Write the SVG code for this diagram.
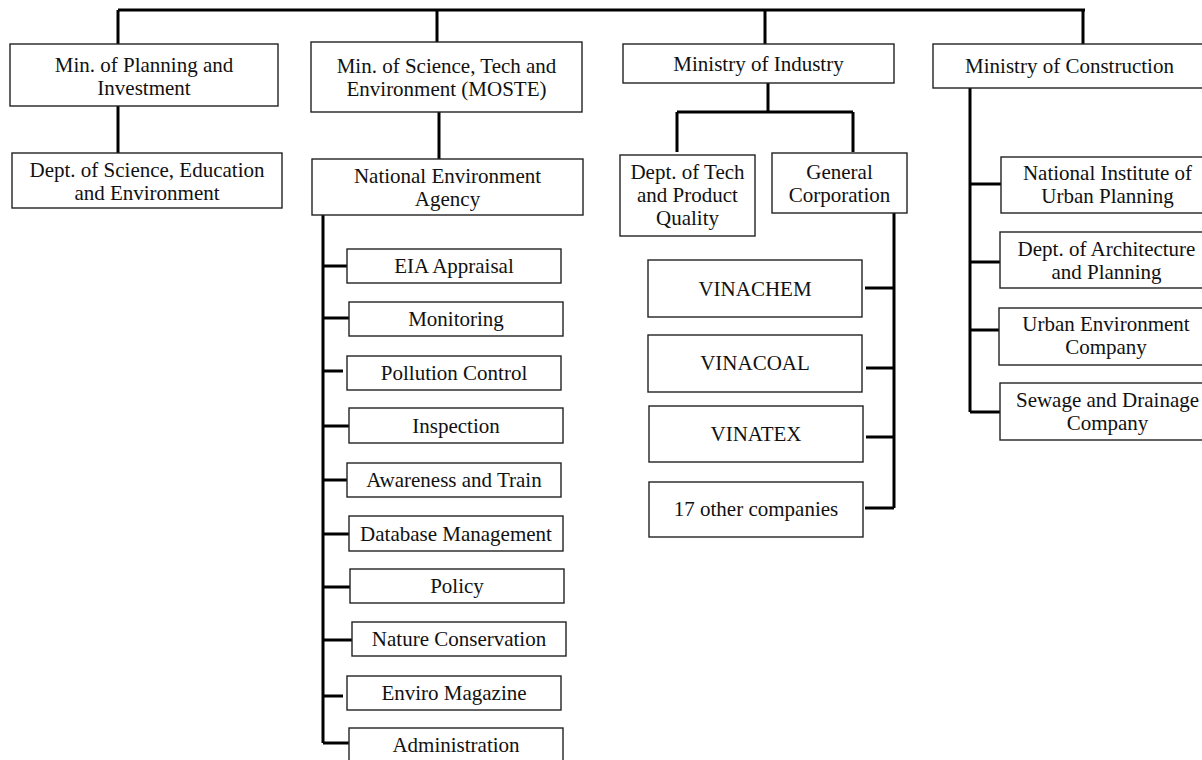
<svg xmlns="http://www.w3.org/2000/svg" width="1202" height="760" viewBox="0 0 1202 760">
<style>
.b{fill:#fff;stroke:#222;stroke-width:1.4}
.t{font-family:"Liberation Serif","Times New Roman",serif;font-size:21px;fill:#111;text-anchor:middle}
.c{fill:none;stroke:#000;stroke-width:3}
</style>
<rect width="1202" height="760" fill="#fff"/>
<g id="connectors" class="c">
<path d="M118,10H1085M118,10V44M437,10V42M765,10V44M1083,10V44"/>
<path d="M118,106V153"/>
<path d="M439,112V159"/>
<path d="M323,215V743M323,266H347M323,318H349M323,371H343M323,426H349M323,480H347M323,534H349M323,587H350M323,640H352M323,696H343M323,743H349"/>
<path d="M768,83V112M677,112H853M677,112V152M853,112V152"/>
<path d="M894,213V508M865,288H894M866,368H894M866,437H894M865,508H894"/>
<path d="M970,88V412M970,184H1001M970,262H1000M970,330H1000M970,412H1000"/>
</g>
<g id="mpi"><rect class="b" x="10" y="44" width="268" height="62"/><text class="t" x="144" y="72">Min. of Planning and</text><text class="t" x="144" y="95">Investment</text></g>
<g id="dsee"><rect class="b" x="12" y="153" width="270" height="55"/><text class="t" x="147" y="177">Dept. of Science, Education</text><text class="t" x="147" y="200">and Environment</text></g>
<g id="moste"><rect class="b" x="311" y="42" width="271" height="70"/><text class="t" x="446.5" y="73">Min. of Science, Tech and</text><text class="t" x="446.5" y="96">Environment (MOSTE)</text></g>
<g id="nea"><rect class="b" x="312" y="159" width="271" height="56"/><text class="t" x="447.5" y="183">National Environment</text><text class="t" x="447.5" y="206">Agency</text></g>
<g id="eia"><rect class="b" x="347" y="249" width="214" height="34"/><text class="t" x="454" y="273">EIA Appraisal</text></g>
<g id="monitoring"><rect class="b" x="349" y="302" width="214" height="34"/><text class="t" x="456" y="326">Monitoring</text></g>
<g id="pollution"><rect class="b" x="347" y="356" width="214" height="34"/><text class="t" x="454" y="380">Pollution Control</text></g>
<g id="inspection"><rect class="b" x="349" y="408" width="214" height="35"/><text class="t" x="456" y="433">Inspection</text></g>
<g id="awareness"><rect class="b" x="347" y="463" width="214" height="34"/><text class="t" x="454" y="487">Awareness and Train</text></g>
<g id="database"><rect class="b" x="349" y="516" width="214" height="35"/><text class="t" x="456" y="541">Database Management</text></g>
<g id="policy"><rect class="b" x="350" y="569" width="214" height="34"/><text class="t" x="457" y="593">Policy</text></g>
<g id="nature"><rect class="b" x="352" y="622" width="214" height="34"/><text class="t" x="459" y="646">Nature Conservation</text></g>
<g id="enviro"><rect class="b" x="347" y="676" width="214" height="34"/><text class="t" x="454" y="700">Enviro Magazine</text></g>
<g id="admin"><rect class="b" x="349" y="728" width="214" height="40"/><text class="t" x="456" y="752">Administration</text></g>
<g id="moi"><rect class="b" x="623" y="44" width="271" height="39"/><text class="t" x="758.5" y="71">Ministry of Industry</text></g>
<g id="dtpq"><rect class="b" x="620" y="155" width="135" height="81"/><text class="t" x="687.5" y="179">Dept. of Tech</text><text class="t" x="687.5" y="202">and Product</text><text class="t" x="687.5" y="225">Quality</text></g>
<g id="gc"><rect class="b" x="772" y="153" width="135" height="60"/><text class="t" x="839.5" y="179">General</text><text class="t" x="839.5" y="202">Corporation</text></g>
<g id="vinachem"><rect class="b" x="648" y="260" width="214" height="57"/><text class="t" x="755" y="296">VINACHEM</text></g>
<g id="vinacoal"><rect class="b" x="648" y="335" width="214" height="57"/><text class="t" x="755" y="370">VINACOAL</text></g>
<g id="vinatex"><rect class="b" x="649" y="406" width="214" height="56"/><text class="t" x="756" y="441">VINATEX</text></g>
<g id="others"><rect class="b" x="649" y="482" width="214" height="55"/><text class="t" x="756" y="516">17 other companies</text></g>
<g id="moc"><rect class="b" x="933" y="44" width="280" height="44"/><text class="t" x="1069.5" y="73">Ministry of Construction</text></g>
<g id="niup"><rect class="b" x="1001" y="157" width="215" height="56"/><text class="t" x="1107.5" y="180">National Institute of</text><text class="t" x="1107.5" y="203">Urban Planning</text></g>
<g id="dap"><rect class="b" x="1000" y="232" width="216" height="56"/><text class="t" x="1106.5" y="256">Dept. of Architecture</text><text class="t" x="1106.5" y="279">and Planning</text></g>
<g id="uec"><rect class="b" x="999" y="308" width="217" height="57"/><text class="t" x="1106" y="331">Urban Environment</text><text class="t" x="1106" y="354">Company</text></g>
<g id="sdc"><rect class="b" x="1000" y="383" width="216" height="57"/><text class="t" x="1107.5" y="407">Sewage and Drainage</text><text class="t" x="1107.5" y="430">Company</text></g>
</svg>
